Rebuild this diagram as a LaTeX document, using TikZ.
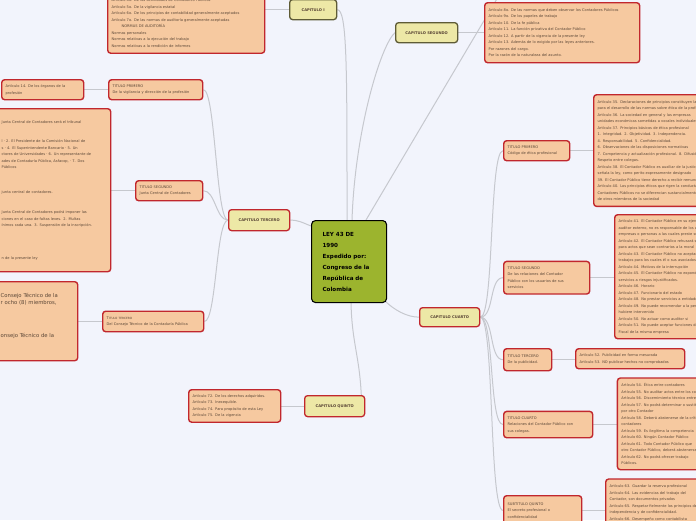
\documentclass[tikz,border=0pt]{standalone}
\usepackage{fontspec}
\setmainfont{DejaVu Sans}
\usetikzlibrary{positioning, calc, backgrounds}
\definecolor{bgcol}{HTML}{F2F4FC}
\definecolor{salmon}{HTML}{F6C9A0}
\definecolor{boxred}{HTML}{C1272D}
\definecolor{chapfill}{HTML}{EDE8A6}
\definecolor{chapdraw}{HTML}{5E5B36}
\definecolor{leyfill}{HTML}{9CB42E}
\definecolor{linkgray}{HTML}{C6C8CE}
\definecolor{txtbrown}{HTML}{5A4636}
\tikzset{
  ley/.style     = {draw=black, fill=leyfill, rounded corners=4pt, line width=1.1pt,
                    align=left, text width=53pt, inner xsep=11pt, minimum height=82pt,
                    font=\fontsize{5.6}{11}\selectfont\bfseries, anchor=north west},
  chap/.style    = {draw=chapdraw, fill=chapfill, rounded corners=3pt, line width=1.3pt,
                    font=\fontsize{3.7}{4.5}\selectfont\bfseries, text=txtbrown,
                    anchor=north west, inner sep=0pt},
  chapred/.style = {chap, draw=boxred},
  art/.style     = {draw=boxred, fill=salmon, rounded corners=3pt, line width=1.4pt,
                    align=left, font=\fontsize{3.6}{6.5}\selectfont, text=txtbrown,
                    anchor=north west, inner xsep=4pt, inner ysep=0pt},
  link/.style    = {draw=linkgray, line width=1pt}
}
\newcommand{\smallcap}[2]{#1{\fontsize{2.9}{6.5}\selectfont #2}}

\begin{document}
\begin{tikzpicture}[x=1pt, y=-1pt]
\useasboundingbox (0,0) rectangle (696,520);

% Centre and chapters
\node[ley] (ley) at (311,220)
  {LEY 43 DE\\1990\\Expedido por:\\Congreso de la\\República de\\Colombia};
\node[chap, minimum width=47pt, minimum height=20pt] (cap1) at (289,-1) {CAPITULO I};
\node[chap, minimum width=62pt, minimum height=20pt] (cap2) at (395,22) {CAPITULO SEGUNDO};
\node[chapred, minimum width=61pt, minimum height=21pt] (cap3) at (228,209) {CAPITULO TERCERO};
\node[chapred, minimum width=60pt, minimum height=19pt] (cap4) at (419,307) {CAPITULO CUARTO};
\node[chapred, minimum width=60pt, minimum height=21pt] (cap5) at (304,395) {CAPITULO QUINTO};

% Capitulo I and II
\node[art, text width=149pt, minimum height=60.5pt] (art4) at (107,-8)
  {Artículo 4o. De las actividades de Contadores Públicos\\
   Artículo 5o. De la vigilancia estatal\\
   Artículo 6o. De los  principios de contabilidad generalmente aceptados\\
   Artículo 7o. De las normas de auditoría generalmente aceptadas\\
   \hspace*{10pt}NORMAS DE AUDITORÍA\\
   Normas personales\\
   Normas relativas a la ejecución del trabajo\\
   Normas relativas a la rendición de informes};
\node[art, text width=147pt, minimum height=60pt] (art8) at (484,2)
  {Artículo 8o. De las normas que deben observar  los Contadores Públicos\\
   Artículo 9o. De los papeles de trabajo\\
   Artículo 10. De la fe pública\\
   Artículo 11. La función privativa del Contador  Público\\
   Artículo 12. A partir de la vigencia de la presente ley\\
   Artículo 13. Además de lo exigido por  las leyes anteriores.\\
   Por razones del cargo.\\
   Por la razón de la naturaleza del asunto.};

% Capitulo tercero
\node[art, text width=86pt, minimum height=20pt] (tit1) at (108,79)
  {TITULO PRIMERO\\De la vigilancia y dirección de la profesión};
\node[art, text width=74pt, minimum height=20pt] (art14) at (1,79)
  {Artículo 14. De los órganos de la\\profesión};
\node[art, text width=59pt, minimum height=20pt] (tit2) at (135,180)
  {TITULO SEGUNDO\\Junta Central de Contadores};
\node[art, text width=104pt, inner xsep=5pt, minimum height=163pt] (junta) at (-4,108)
  {Junta Central de Contadores será el tribunal\\[12.9pt]
   l · 2. El Presidente de la Comisión Nacional de\\
   s · 4. El Superintendente Bancario · 5. Un\\
   ctores de Universidades · 6. Un representante de\\
   ades de Contaduría Pública, Asfacop, · 7. Dos\\
   Públicos\\[18.4pt]
   junta central de contadores.\\[13.4pt]
   Junta Central de Contadores podrá imponer las\\
   ciones en el caso de faltas leves.  2. Multas\\
   ínimos cada una. 3. Suspensión de la inscripción.\\[26.1pt]
   n de la presente ley};
\node[art, text width=93pt, minimum height=20.5pt] (tit3) at (102,310.5)
  {\smallcap{T}{ITULO TERCERO}\\Del Consejo Técnico de la Contaduría Pública};
\node[art, text width=73pt, minimum height=79pt,
      font=\fontsize{5.3}{6.7}\selectfont] (consejo) at (-4,281)
  {Consejo Técnico de la\\
   r ocho (8) miembros,\\[25.9pt]
   onsejo Técnico de la\\[5pt]\mbox{}};

% Capitulo cuarto
\node[art, text width=58pt, minimum height=20pt] (tpr) at (503,140)
  {TITULO PRIMERO\\Código de ética profesional};
\node[art, text width=200pt, minimum height=111.7pt] (art35) at (593,94)
  {Artículo 35. Declaraciones de principios constituyen la base\\
   para el desarrollo de las normas sobre ética de la profesión\\
   Artículo 36. La sociedad en general y  las empresas\\
   unidades económicas  sometidas a vocales individuales\\
   Artículo 37. Principios básicos de ética profesional\\
   1. Integridad. 2. Objetividad.  3. Independencia.\\
   4. Responsabilidad. 5. Confidencialidad.\\
   6. Observaciones de las disposiciones normativas\\
   7. Competencia y actualización profesional. 8. Difusión\\
   Respeto entre colegas.\\
   Artículo 38. El Contador Público es auxiliar de la justicia\\
   señala la ley, como perito expresamente designado\\
   39. El Contador Público tiene derecho a recibir remuneración\\
   Artículo 40. Los principios éticos que rigen la conducta\\
   Contadores  Públicos no se diferencian sustancialmente\\
   de otros miembros de la sociedad};
\node[art, text width=78pt, minimum height=32.6pt] (tse) at (503,260.7)
  {TITULO SEGUNDO\\De las relaciones del Contador\\Público con los usuarios de sus\\servicios};
\node[art, text width=200pt, minimum height=124pt] (art41) at (614,214)
  {Artículo 41. El Contador Público en su ejercicio como\\
   auditor  externo, no es responsable de los actos de\\
   empresas o personas a las  cuales preste sus servicios\\
   Artículo 42. El Contador Público rehusará sus servicios\\
   para actos que sean contrarios a la moral\\
   Artículo 43. El Contador Público no aceptará\\
   trabajos para los cuales él o sus asociados\\
   Artículo 44. Motivos de la interrupción\\
   Artículo 45. El Contador  Público no expondrá\\
   servicios a riesgos  injustificados.\\
   Artículo 46. Horario\\
   Artículo 47. Funcionario del estado\\
   Artículo 48. No prestar servicios a entidades\\
   Artículo 49.  No puede recomendar a la persona\\
   hubiere intervenido\\
   Artículo 50. No actuar como auditor si\\
   Artículo 51. No puede aceptar funciones de\\
   Fiscal de la misma empresa};
\node[art, text width=40pt, minimum height=22pt] (tte) at (503,348)
  {TITULO TERCERO\\De la publicidad.};
\node[art, text width=101pt, minimum height=20pt] (art52) at (575,348)
  {Artículo 52. Publicidad en forma mesurada\\Artículo 53. NO publicar hechos no comprobados};
\node[art, text width=81pt, minimum height=26.3pt] (tcu) at (503,410.7)
  {TITULO CUARTO\\Relaciones del Contador Público con\\sus colegas.};
\node[art, text width=200pt, minimum height=91.7pt] (art54) at (616.7,377.3)
  {Artículo 54. Ética entre contadores\\
   Artículo 55. No auditar actos entre los colegas\\
   Artículo 56. Discernimiento técnico entre colegas\\
   Artículo 57. No podrá determinar o sustituir\\
   por otro Contador\\
   Artículo 58. Deberá abstenerse de la crítica\\
   contadores\\
   Artículo 59. Es ilegítima la competencia\\
   Artículo 60. Ningún Contador Público\\
   Artículo 61. Todo Contador  Público que\\
   otro Contador Público, deberá abstenerse\\
   Artículo 62. No podrá ofrecer  trabajo\\
   Públicos.};
\node[art, text width=70pt, minimum height=29.4pt] (squ) at (503,495)
  {SUBTITULO QUINTO\\El secreto profesional o\\confidencialidad};
\node[art, text width=200pt, minimum height=48pt] (art63) at (605,478.3)
  {Artículo 63. Guardar la reserva profesional\\
   Artículo 64. Las evidencias del trabajo del\\
   Contador, son documentos privados\\
   Artículo 65. Respetar fielmente los principios de\\
   independencia y de confidencialidad.\\
   Artículo 66. Desempeño como contabilista};

% Capitulo quinto
\node[art, text width=84pt, minimum height=32.5pt] (art72) at (188,389)
  {Artículo 72. De los derechos adquiridos.\\
   Artículo 73. Inexequible.\\
   Artículo 74. Para propósito de esta Ley\\
   Artículo 75. De la vigencia};

\coordinate (arriba) at (501,-8);

% Connectors
\begin{scope}[on background layer]
  \fill[bgcol] (0,0) rectangle (696,520);
  \draw[link] ($(ley.north west)+(36,0)$) .. controls +(0,-150) and +(10,0) .. (cap1.east);
  \draw[link] ($(ley.north west)+(41,0)$) .. controls +(3,-90) and +(-14,12) .. (cap2.west);
  \draw[link] ($(ley.north west)+(55,0)$) -- (arriba);
  \draw[link] ($(ley.north west)+(0,6)$) .. controls +(-10,-4) and +(8,0) .. (cap3.east);
  \draw[link] ($(ley.south east)+(-3,-3)$) .. controls +(10,10) and +(-12,0) .. (cap4.west);
  \draw[link] ($(ley.south west)+(40,0)$) .. controls +(1,40) and +(-2,-40) .. ($(cap5.north east)+(-4,0)$);
  \draw[link] (cap1.west) -- (cap1.west -| art4.east);
  \draw[link] (cap2.east) -- (cap2.east -| art8.west);
  \foreach \t in {tit1, tit2, tit3}
    \draw[link] (cap3.west) .. controls +(-12,0) and +(12,0) .. (\t.east);
  \foreach \t in {tpr, tse, tte, tcu, squ}
    \draw[link] (cap4.east) .. controls +(14,0) and +(-14,0) .. (\t.west);
  \foreach \a/\b in {tit1/art14, tit2/junta, tit3/consejo, cap5/art72}
    \draw[link] (\a.west) -- (\a.west -| \b.east);
  \foreach \a/\b in {tpr/art35, tse/art41, tte/art52, tcu/art54, squ/art63}
    \draw[link] (\a.east) -- (\a.east -| \b.west);
\end{scope}
\end{tikzpicture}
\end{document}
